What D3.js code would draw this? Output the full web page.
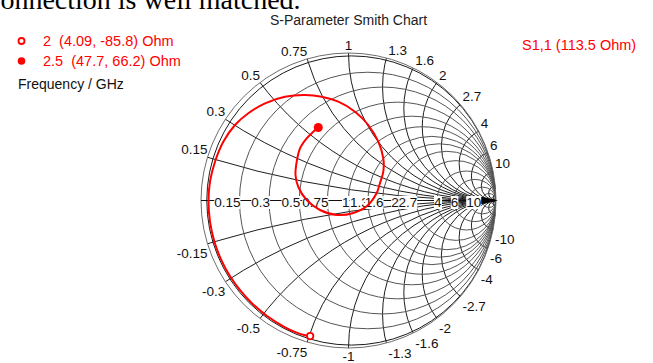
<!DOCTYPE html>
<html><head><meta charset="utf-8">
<script src="https://cdn.jsdelivr.net/npm/d3@7"></script>
<style>
html,body{margin:0;padding:0;background:#fff;}
svg{display:block;}
text{font-family:"Liberation Sans",Arial,sans-serif;}
</style></head><body>
<svg id="chart" width="653" height="363"></svg>
<script>
// Reference impedance of the port (Ohm)
const z0 = 113.5;

// Normalised grid values of the Smith chart
const resistanceValues = [0.15, 0.3, 0.5, 0.75, 1, 1.3, 1.6, 2, 2.7, 4, 6, 10];
const reactanceValues = [0.15, 0.3, 0.5, 0.75, 1, 1.3, 1.6, 2, 2.7, 4, 6, 10];
const minorResistance = [20, 50];
const minorReactance = [20, 50];
const rimResistance = 0.02;

// Marker readouts: frequency (GHz) and impedance (Ohm)
const markerFreqGHz = [2, 2.5];
const markerResistanceOhm = [4.09, 47.7];
const markerReactanceOhm = [-85.8, 66.2];

// S1,1 trace from 2 GHz to 2.5 GHz (real / imaginary part)
const traceRe = [-0.2597, -0.2951, -0.3557, -0.4333, -0.5522, -0.6569, -0.7351, -0.8037, -0.8621, -0.9090,
  -0.9391, -0.9490, -0.9390, -0.9051, -0.8488, -0.7695, -0.6793, -0.5661, -0.4305, -0.2949,
  -0.1817, -0.0692, 0.0441, 0.1342, 0.2020, 0.2359, 0.2359, 0.2136, 0.1912, 0.1254,
  0.0325, -0.0780, -0.1932, -0.2834, -0.3403, -0.3593, -0.3512, -0.3288, -0.2834, -0.2386, -0.2050];
const traceIm = [-0.9192, -0.9135, -0.8938, -0.8578, -0.7828, -0.6946, -0.6081, -0.5120, -0.4038, -0.2796,
  -0.1437, 0.0000, 0.1275, 0.2631, 0.3986, 0.5119, 0.5912, 0.6590, 0.7037, 0.7153,
  0.7037, 0.6698, 0.6020, 0.5119, 0.3986, 0.2861, 0.1953, 0.1186, 0.0508, -0.0373,
  -0.0847, -0.0983, -0.0644, 0.0034, 0.0915, 0.1729, 0.2631, 0.3539, 0.4217, 0.4664, 0.4948];

const svg = d3.select("#chart");
const cx = 348.5, cy = 200.5, R = 147.5;
const sx = d3.scaleLinear().domain([-1, 1]).range([cx - R, cx + R]);
const sy = d3.scaleLinear().domain([-1, 1]).range([cy + R, cy - R]);
const len = v => sx(v) - sx(0);

// reflection coefficient of a normalised impedance r + jx
function gamma(r, x) {
  const d = (r + 1) * (r + 1) + x * x;
  return [(r * r + x * x - 1) / d, 2 * x / d];
}

// page text above the chart
svg.append("text").attr("x", -12).attr("y", 9)
  .style("font-family", "'Liberation Serif','Times New Roman',serif")
  .style("font-size", "28px").attr("fill", "#000")
  .text("connection is well matched.");

svg.append("text").attr("x", cx).attr("y", 25).attr("text-anchor", "middle")
  .style("font-size", "14px").attr("fill", "#222")
  .text("S-Parameter Smith Chart");

// clip everything in the grid to the unit circle
svg.append("defs").append("clipPath").attr("id", "unit")
  .append("circle").attr("cx", sx(0)).attr("cy", sy(0)).attr("r", len(1));

const grid = svg.append("g").attr("clip-path", "url(#unit)").attr("fill", "none");

// constant-reactance arcs
const allX = reactanceValues.concat(minorReactance);
grid.selectAll("circle.xarc")
  .data(allX.flatMap(v => [v, -v]))
  .join("circle").attr("class", "xarc")
  .attr("cx", sx(1)).attr("cy", d => sy(1 / d)).attr("r", d => len(1 / Math.abs(d)))
  .attr("stroke", "#1e1e1e").attr("stroke-width", 1);

// constant-resistance circles
const allR = resistanceValues.concat(minorResistance);
grid.selectAll("circle.rcirc")
  .data(allR)
  .join("circle").attr("class", "rcirc")
  .attr("cx", d => sx(d / (1 + d))).attr("cy", sy(0)).attr("r", d => len(1 / (1 + d)))
  .attr("stroke", "#555").attr("stroke-width", 1);

grid.append("circle")
  .attr("cx", sx(rimResistance / (1 + rimResistance))).attr("cy", sy(0))
  .attr("r", len(1 / (1 + rimResistance)))
  .attr("stroke", "#1a1a1a").attr("stroke-width", 1);

// outer |Γ| = 1 circle
svg.append("circle").attr("cx", sx(0)).attr("cy", sy(0)).attr("r", len(1))
  .attr("fill", "none").attr("stroke", "#6e6e6e").attr("stroke-width", 1);

// real axis
svg.append("line").attr("x1", sx(-1)).attr("x2", sx(1)).attr("y1", sy(0)).attr("y2", sy(0))
  .attr("stroke", "#111").attr("stroke-width", 1);
svg.append("path")
  .attr("d", `M${sx(1) + 2},${sy(0)} L${sx(0.89)},${sy(0) - 4} L${sx(0.89)},${sy(0) + 4} Z`)
  .attr("fill", "#000");

// resistance labels on the real axis, each on a white box
const axisLabels = svg.append("g").style("font-size", "13.5px");
resistanceValues.forEach(r => {
  const g = axisLabels.append("g");
  const xc = sx((r - 1) / (r + 1));
  const t = g.append("text")
    .attr("x", r >= 4 ? xc - 3 : xc + 1)
    .attr("y", sy(0) + 6.5)
    .attr("text-anchor", r >= 4 ? "start" : "end")
    .attr("fill", "#111")
    .text(String(r));
  const b = t.node().getBBox();
  g.insert("rect", "text").attr("x", b.x).attr("y", b.y + 1).attr("width", b.width).attr("height", b.height - 2)
    .attr("fill", "#fff");
});

// reactance labels around the rim
const rimLabels = svg.append("g").style("font-size", "13.5px").attr("fill", "#111");
reactanceValues.flatMap(v => [v, -v]).forEach(v => {
  const [gr, gi] = gamma(0, v);
  const px = sx(gr), py = sy(gi);
  let anchor = "start", dx = 2;
  if (gr < -0.05) { anchor = "end"; dx = 0; }
  else if (Math.abs(gr) <= 0.05) { anchor = "middle"; dx = 0; }
  rimLabels.append("text")
    .attr("x", px + dx)
    .attr("y", v > 0 ? py - 3 : Math.min(py + 14.5, 361))
    .attr("text-anchor", anchor)
    .text(v > 0 ? String(v) : "-" + String(-v));
});

// S1,1 trace
const pts = traceRe.map((re, i) => [re, traceIm[i]]);
svg.append("path").datum(pts)
  .attr("d", d3.line().x(d => sx(d[0])).y(d => sy(d[1])).curve(d3.curveCatmullRom.alpha(0.5)))
  .attr("fill", "none").attr("stroke", "#f00").attr("stroke-width", 2);

// markers from the impedance readouts
const markers = markerFreqGHz.map((f, i) => {
  const g = gamma(markerResistanceOhm[i] / z0, markerReactanceOhm[i] / z0);
  return { f, r: markerResistanceOhm[i], x: markerReactanceOhm[i], g, open: i === 0 };
});
svg.selectAll("circle.marker").data(markers).join("circle").attr("class", "marker")
  .attr("cx", d => sx(d.g[0])).attr("cy", d => sy(d.g[1]))
  .attr("r", d => d.open ? 3.2 : 4.5)
  .attr("fill", d => d.open ? "#fff" : "#f00")
  .attr("stroke", "#f00").attr("stroke-width", d => d.open ? 1.8 : 0);

// legend with marker readouts
const legend = svg.append("g").style("font-size", "14.5px");
markers.forEach((m, i) => {
  const y = 41 + i * 20;
  legend.append("circle").attr("cx", 21.5).attr("cy", y)
    .attr("r", m.open ? 3 : 3.8)
    .attr("fill", m.open ? "#fff" : "#f00").attr("stroke", "#f00")
    .attr("stroke-width", m.open ? 1.8 : 0);
  legend.append("text").attr("x", 43).attr("y", y + 5).attr("fill", "#f00")
    .style("white-space", "pre")
    .text(`${m.f}  (${m.r}, ${m.x}) Ohm`);
});
legend.append("text").attr("x", 18).attr("y", 89).attr("fill", "#111")
  .style("font-size", "14px")
  .text("Frequency / GHz");

svg.append("text").attr("x", 522).attr("y", 50).style("font-size", "14.5px").attr("fill", "#f00")
  .text(`S1,1 (${z0} Ohm)`);
</script>
</body></html>
